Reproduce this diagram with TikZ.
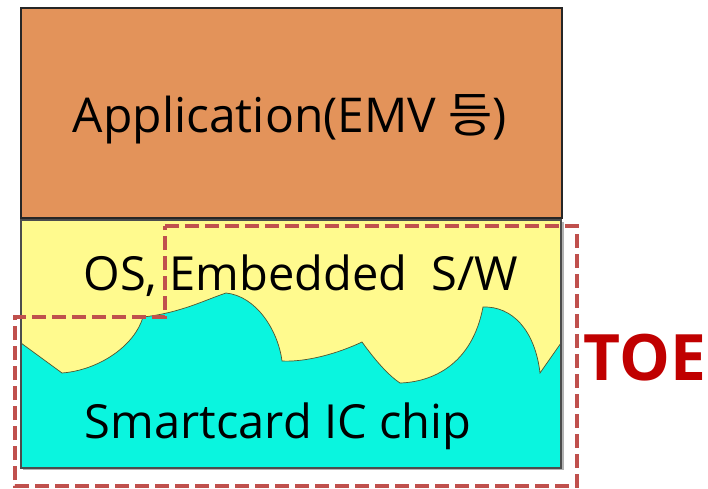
\documentclass[tikz,border=0pt]{standalone}
\usepackage{fontspec}
\setmainfont{Open Sans}
\newfontfamily\kr{Noto Sans CJK KR}
\definecolor{apporange}{HTML}{E3935A}
\definecolor{osyellow}{HTML}{FFFA8E}
\definecolor{chipcyan}{HTML}{0AF5DF}
\definecolor{toedash}{HTML}{C0504D}
\definecolor{toered}{HTML}{C00000}
\tikzset{
  layerlbl/.style={anchor=base, inner sep=0pt, font=\fontsize{47}{52}\selectfont, text=black},
  toebox/.style={draw=toedash, line width=4.5pt, dash pattern=on 14pt off 6pt},
  wave/.style={draw=black!50!olive, line width=0.7pt},
}
\begin{document}
\begin{tikzpicture}[x=1pt,y=-1pt]
\useasboundingbox (0,0) rectangle (708,488);
% application layer
\path[fill=apporange, draw=black!85, line width=1.3pt] (21,8) rectangle (562,218);
% lower box: shadow, yellow, cyan
\fill[black!30] (23,222) rectangle (564,470);
\fill[osyellow] (21,220) rectangle (561,468);
\path[fill=chipcyan] (21,343) -- (62,373)
  .. controls (100,370) and (135,345) .. (143,317)
  .. controls (180,313) and (205,300) .. (226,293)
  .. controls (256,296) and (278,330) .. (282,361)
  .. controls (300,362) and (330,357) .. (362,342)
  .. controls (375,360) and (388,375) .. (400,383)
  .. controls (432,382) and (472,365) .. (483,307)
  .. controls (512,306) and (535,330) .. (540,373)
  -- (561,343) -- (561,468) -- (21,468) -- cycle;
\path[wave] (21,343) -- (62,373)
  .. controls (100,370) and (135,345) .. (143,317)
  .. controls (180,313) and (205,300) .. (226,293)
  .. controls (256,296) and (278,330) .. (282,361)
  .. controls (300,362) and (330,357) .. (362,342)
  .. controls (375,360) and (388,375) .. (400,383)
  .. controls (432,382) and (472,365) .. (483,307)
  .. controls (512,306) and (535,330) .. (540,373)
  -- (561,343);
\draw[black!70, line width=1.3pt] (21,220) rectangle (561,468);
% labels
\node[layerlbl, font=\fontsize{48}{54}\selectfont] (app) at (290,132) {Application(EMV {\kr 등})};
\node[layerlbl] (os) at (301,290) {OS,\ Embedded\ \ S/W};
\node[layerlbl] (chip) at (278,438) {Smartcard IC chip};
% TOE boundary
\draw[toebox] (165,226) -- (577,226) -- (577,486) -- (15,486) -- (15,317) -- (165,317) -- cycle;
\node[anchor=base, inner sep=0pt, font=\bfseries\fontsize{64}{70}\selectfont, text=toered] (toe) at (645,380) {TOE};
\end{tikzpicture}
\end{document}
